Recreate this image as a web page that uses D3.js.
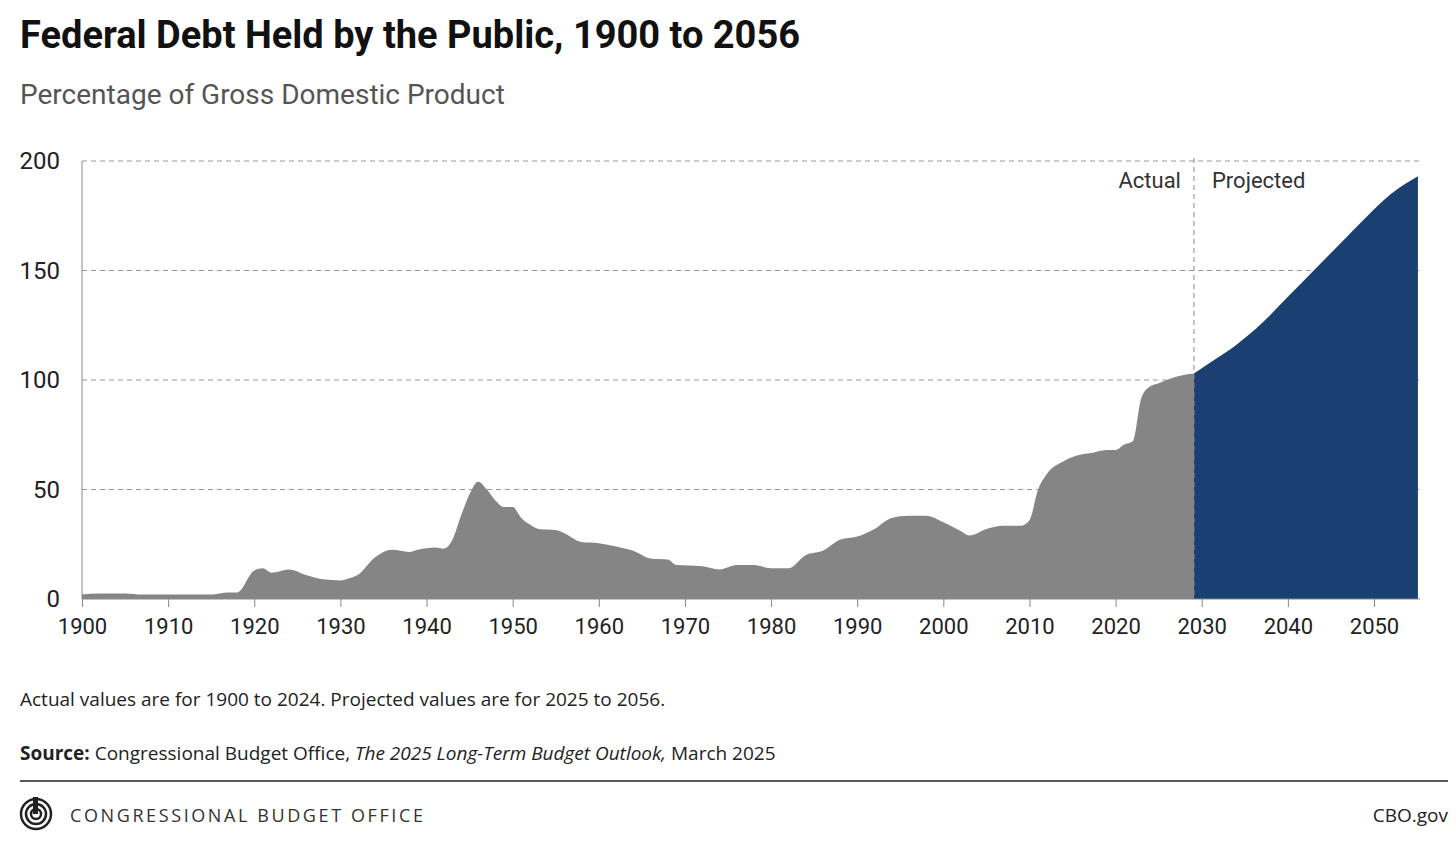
<!DOCTYPE html>
<html lang="en">
<head>
<meta charset="utf-8" />
<title>Federal Debt Held by the Public</title>
<script src="https://d3js.org/d3.v7.min.js"></script>
<style>
  body { margin: 0; background: #fff; }
  .cond { font-family: "Liberation Sans Narrow", "Roboto", sans-serif; }
  .sans { font-family: "Open Sans", "Noto Sans", sans-serif; }
</style>
</head>
<body>
<svg id="chart" width="1456" height="841"></svg>
<script>
// Actual values (positioned by the axis year as drawn in the reference)
const actualYears = [1900,1902,1905,1907,1910,1915,1917,1918,1920,1921,1922,1924,1926,1928,1930,1931,1932,1934,1936,1938,1939,1941,1942,1943,1944,1945,1946,1947,1948,1949,1950,1951,1952,1953,1955,1956,1958,1960,1962,1964,1966,1968,1969,1972,1974,1976,1978,1980,1982,1984,1986,1988,1990,1992,1994,1996,1998,2000,2002,2003,2005,2007,2009,2010,2011,2012,2014,2016,2017,2019,2020,2021,2022,2023,2024,2025,2027,2029.1];
const actualValues = [2,2.5,2.5,2,2,2,3,3,13,14,12,13.5,11,9,8.5,9.5,11,19,22.5,21.5,22.5,23.5,23,27,38,48,53.5,50,45,42,42,37,34,32,31.5,30,26,25.5,24,22,18.5,18,15.5,15,13.5,15.5,15.5,14,14,20,22,27,28.5,32,37,38,38,35,31,29,32,33.5,33.5,36,50,57,63,66,66.5,68,68,70.5,72,92,97,98.5,101.5,103];
const projYears = [2029.1,2031,2034,2037,2040,2043,2046,2049,2052,2055.1];
const projValues = [103,108,116,126,138,150,162,174,185,193];
const yTicks = [0,50,100,150,200];
const xTicks = [1900,1910,1920,1930,1940,1950,1960,1970,1980,1990,2000,2010,2020,2030,2040,2050];

const svg = d3.select('#chart');
const x = d3.scaleLinear().domain([1900, 2050]).range([82, 1374]);
const y = d3.scaleLinear().domain([0, 200]).range([599, 161]);
const right = 1420;

// Titles
svg.append('text').attr('class','cond').attr('x',20).attr('y',48)
  .attr('font-size',38).attr('font-weight','bold').attr('fill','#111')
  .text('Federal Debt Held by the Public, 1900 to 2056');
svg.append('text').attr('class','cond').attr('x',20).attr('y',104)
  .attr('font-size',28).attr('fill','#555').text('Percentage of Gross Domestic Product');

// Gridlines
svg.append('g').selectAll('line').data(yTicks.filter(d => d > 0)).join('line')
  .attr('x1',82).attr('x2',right).attr('y1',d=>y(d)).attr('y2',d=>y(d))
  .attr('stroke','#999').attr('stroke-dasharray','5,4');

// Areas
const area = (ys, vs) => d3.area().x((d,i)=>x(ys[i])).y0(y(0)).y1(d=>y(d)).curve(d3.curveMonotoneX)(vs);
svg.append('path').attr('d', area(actualYears, actualValues)).attr('fill','#858585');
svg.append('path').attr('d', area(projYears, projValues)).attr('fill','#1a4072');

// Divider
const xd = x(2029.1);
svg.append('line').attr('x1',xd).attr('x2',xd).attr('y1',158).attr('y2',599)
  .attr('stroke','#888').attr('stroke-dasharray','5,4');
svg.append('text').attr('class','cond').attr('x',xd-13).attr('y',188).attr('text-anchor','end')
  .attr('font-size',22).attr('fill','#333').text('Actual');
svg.append('text').attr('class','cond').attr('x',xd+18).attr('y',188)
  .attr('font-size',22).attr('fill','#333').text('Projected');

// Axes
svg.append('line').attr('x1',82).attr('x2',82).attr('y1',161).attr('y2',599).attr('stroke','#888');
const xAxis = svg.append('g').attr('transform',`translate(0,${y(0)})`)
  .call(d3.axisBottom(x).tickValues(xTicks).tickFormat(d3.format('d')).tickSize(8).tickSizeOuter(0));
xAxis.select('.domain').attr('d',`M82,0H${right}`).attr('stroke','#888');
xAxis.selectAll('line').attr('stroke','#888');
xAxis.selectAll('text').attr('class','cond').attr('font-size',22).attr('fill','#222').attr('dy','1.1em');
const yAxis = svg.append('g').attr('transform','translate(82,0)')
  .call(d3.axisLeft(y).tickValues(yTicks).tickSize(0).tickPadding(22));
yAxis.select('.domain').remove();
yAxis.selectAll('text').attr('class','cond').attr('font-size',24).attr('fill','#222');

// Notes
svg.append('text').attr('class','sans').attr('x',20).attr('y',706).attr('font-size',19).attr('fill','#222')
  .text('Actual values are for 1900 to 2024. Projected values are for 2025 to 2056.');
const src = svg.append('text').attr('class','sans').attr('x',20).attr('y',760).attr('font-size',19).attr('fill','#222');
src.append('tspan').attr('font-weight','bold').text('Source: ');
src.append('tspan').text('Congressional Budget Office, ');
src.append('tspan').attr('font-style','italic').text('The 2025 Long-Term Budget Outlook,');
src.append('tspan').text(' March 2025');
svg.append('line').attr('x1',20).attr('x2',1448).attr('y1',781).attr('y2',781).attr('stroke','#222').attr('stroke-width',1.5);

// Footer logo
const logo = svg.append('g').attr('transform','translate(36,814)');
[15,10,5].forEach(r => logo.append('circle').attr('r',r).attr('fill','none').attr('stroke','#222').attr('stroke-width',2.5));
logo.append('rect').attr('x',-3).attr('y',-17).attr('width',5).attr('height',17).attr('fill','#222');
svg.append('text').attr('class','sans').attr('x',70).attr('y',822).attr('font-size',18)
  .attr('letter-spacing',2.6).attr('fill','#333').text('CONGRESSIONAL BUDGET OFFICE');
svg.append('text').attr('class','sans').attr('x',1448).attr('y',822).attr('text-anchor','end')
  .attr('font-size',19).attr('fill','#222').text('CBO.gov');
</script>
</body>
</html>
